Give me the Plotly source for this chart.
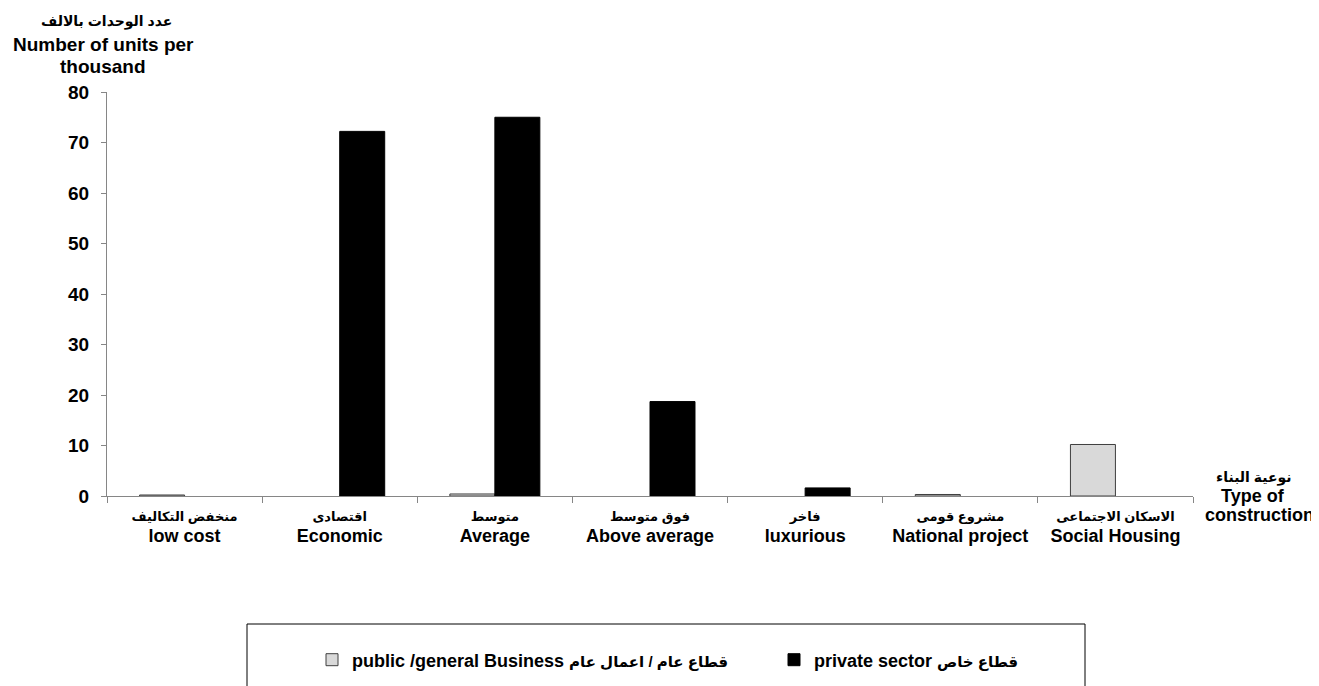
import plotly.graph_objects as go

categories_ar = ["منخفض التكاليف", "اقتصادى", "متوسط", "فوق متوسط", "فاخر", "مشروع قومى", "الاسكان الاجتماعى"]
categories_en = ["low cost", "Economic", "Average", "Above average", "luxurious", "National project", "Social Housing"]
public_values = [0.2, None, 0.4, None, None, 0.3, 10.2]
private_values = [None, 72.2, 75.0, 18.7, 1.6, None, None]
public_en, public_ar = "public /general Business", "قطاع عام / اعمال عام"
private_en, private_ar = "private sector", "قطاع خاص"
y_ticks = [0, 10, 20, 30, 40, 50, 60, 70, 80]

cat_keys = [f"{a} {e}" for a, e in zip(categories_ar, categories_en)]
cat_text = [f'<span style="font-size:13px">{a}</span><br><span style="font-size:18px">{e}</span>'
            for a, e in zip(categories_ar, categories_en)]

FONT = "Liberation Sans, Arial, DejaVu Sans, sans-serif"

fig = go.Figure()
fig.add_trace(go.Bar(
    x=cat_keys, y=public_values,
    name=f'{public_en} <span style="font-size:15px">{public_ar}</span>',
    marker=dict(color="#d9d9d9", line=dict(color="#3f3f3f", width=1)),
    legend="legend",
))
fig.add_trace(go.Bar(
    x=cat_keys, y=private_values,
    name=f'{private_en} <span style="font-size:15px">{private_ar}</span>',
    marker=dict(color="#000000", line=dict(color="#000000", width=1)),
    legend="legend2",
))

OFF = 8  # page body margin
W, H = 1311, 678
L, T = 107 - OFF, 92 - OFF
R = W + OFF - 1193
B = H + OFF - 496
pw, ph = W - L - R, H - T - B

def px_x(x):
    return (x - OFF - L) / pw

def px_y(y):
    return (H - B - (y - OFF)) / ph

def cx(x):
    return (x - OFF) / W

def cy(y):
    return (H - (y - OFF)) / H

fig.update_layout(
    width=W, height=H,
    margin=dict(l=L, r=R, t=T, b=B),
    paper_bgcolor="white", plot_bgcolor="white",
    barmode="group", bargap=0.42, bargroupgap=0,
    showlegend=True,
    font=dict(family=FONT, color="black", size=16, weight="bold"),
    xaxis=dict(
        type="category", showline=True, linecolor="#868686", linewidth=1,
        ticks="outside", tickson="boundaries", ticklen=6, tickcolor="#868686",
        tickvals=cat_keys, ticktext=cat_text, ticklabelstandoff=5,
        tickfont=dict(size=16, weight="bold", family=FONT),
        showgrid=False, zeroline=False, automargin=False,
    ),
    yaxis=dict(
        range=[0, 80], tickvals=y_ticks, showline=True, linecolor="#868686", linewidth=1,
        ticks="outside", ticklen=5, tickcolor="#868686",
        tickfont=dict(size=19, weight="bold", family=FONT),
        ticklabelstandoff=8,
        showgrid=False, zeroline=False, automargin=False,
    ),
    legend=dict(
        orientation="h", xref="container", yref="container",
        x=cx(312), y=cy(660), xanchor="left", yanchor="middle",
        font=dict(size=18, weight="bold", family=FONT), bgcolor="rgba(0,0,0,0)",
    ),
    legend2=dict(
        orientation="h", xref="container", yref="container",
        x=cx(774), y=cy(660), xanchor="left", yanchor="middle",
        font=dict(size=18, weight="bold", family=FONT), bgcolor="rgba(0,0,0,0)",
    ),
    shapes=[dict(
        type="rect", xref="paper", yref="paper",
        x0=px_x(247), x1=px_x(1085), y0=px_y(720), y1=px_y(624),
        line=dict(color="#000000", width=1), fillcolor="rgba(0,0,0,0)",
    )],
    annotations=[
        dict(text="عدد الوحدات بالالف", x=px_x(106), y=px_y(21), xref="paper", yref="paper",
             showarrow=False, font=dict(size=14), xanchor="center", yanchor="middle"),
        dict(text="Number of units per", x=px_x(103), y=px_y(45), xref="paper", yref="paper",
             showarrow=False, font=dict(size=19), xanchor="center", yanchor="middle"),
        dict(text="thousand", x=px_x(103), y=px_y(67), xref="paper", yref="paper",
             showarrow=False, font=dict(size=19), xanchor="center", yanchor="middle"),
        dict(text="نوعية البناء", x=px_x(1254), y=px_y(477), xref="paper", yref="paper",
             showarrow=False, font=dict(size=14), xanchor="center", yanchor="middle"),
        dict(text="Type of", x=px_x(1253), y=px_y(496), xref="paper", yref="paper",
             showarrow=False, font=dict(size=18), xanchor="center", yanchor="middle"),
        dict(text="construction", x=px_x(1259), y=px_y(515), xref="paper", yref="paper",
             showarrow=False, font=dict(size=18), xanchor="center", yanchor="middle"),
    ],
)

fig.write_html("out.html")
